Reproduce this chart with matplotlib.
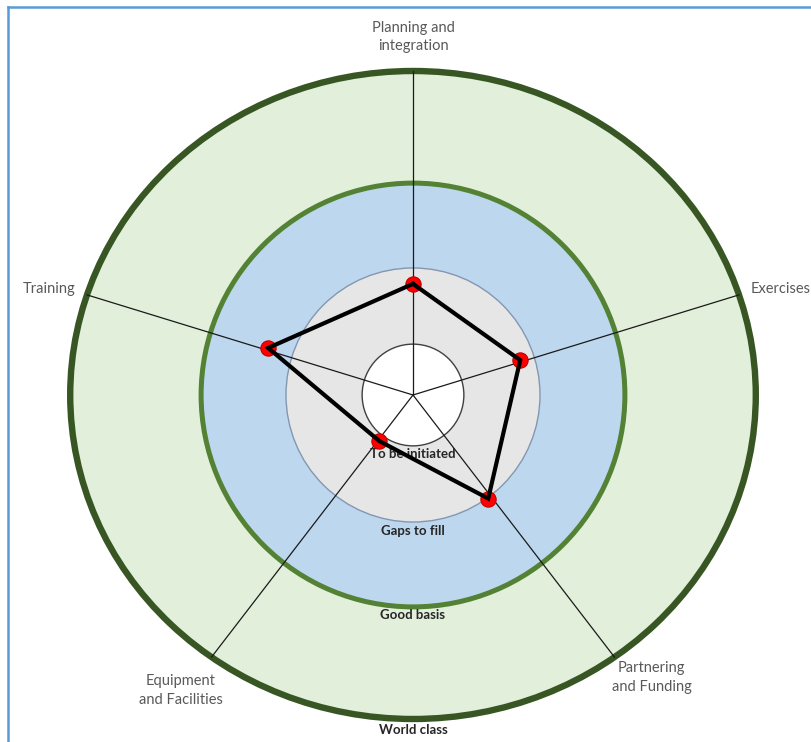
"""Capability maturity radar: five areas scored against four maturity rings."""

import numpy as np
import matplotlib

matplotlib.use("Agg")
import matplotlib.pyplot as plt
from matplotlib.patches import Circle, Ellipse
from matplotlib.lines import Line2D

# --- data -------------------------------------------------------------------
areas = [
    "Planning and\nintegration",
    "Exercises",
    "Partnering\nand Funding",
    "Equipment\nand Facilities",
    "Training",
]
# score of each area, as a fraction of the outer ("World class") ring
scores = [0.343, 0.348, 0.395, 0.176, 0.47]

levels = ["To be initiated", "Gaps to fill", "Good basis", "World class"]
# outer edge of each maturity ring, same scale as scores
level_edges = [0.157, 0.392, 0.654, 1.0]

# --- style ------------------------------------------------------------------
ring_fill = ["white", "#e7e6e6", "#bdd7ee", "#e2efda"]
ring_edge = ["#404040", "#8497b0", "#548235", "#375623"]
ring_lw = [1.0, 1.0, 3.6, 4.6]
RIM_STRETCH = 1.058  # the outer rim is a little wider than tall
LABEL_FONT = "Lato"

plt.rcParams["font.family"] = [LABEL_FONT, "DejaVu Sans"]

fig = plt.figure(figsize=(8.12, 7.42), dpi=100)
ax = fig.add_axes([0, 0, 1, 1])
ax.set_xlim(-413 / 324, 399 / 324)
ax.set_ylim(-347 / 324, 395 / 324)
ax.set_aspect("equal")
ax.axis("off")

# rings, drawn from the outside in
for i in reversed(range(len(level_edges))):
    r = level_edges[i]
    if i == len(level_edges) - 1:
        patch = Ellipse((0, 0), 2 * r * RIM_STRETCH, 2 * r)
    else:
        patch = Circle((0, 0), r)
    patch.set_facecolor(ring_fill[i])
    patch.set_edgecolor(ring_edge[i])
    patch.set_linewidth(ring_lw[i])
    patch.set_zorder(1 + (len(level_edges) - i) * 0.1)
    ax.add_patch(patch)

# level names just under the bottom of each ring
for name, r in zip(levels, level_edges):
    pad = 0.016 if r == level_edges[-1] else 0.008
    ax.text(0, -r - pad, name, ha="center", va="top", fontsize=9.5,
            fontweight="bold", color="#262626", zorder=3)

# spokes: top first, then clockwise
n = len(areas)
angles = np.pi / 2 - np.arange(n) * 2 * np.pi / n
outer = level_edges[-1]
for a in angles:
    ax.plot([0, outer * RIM_STRETCH * np.cos(a)], [0, outer * np.sin(a)],
            color="#1a1a1a", lw=0.9, zorder=2.5)

# area labels outside the rim
label_r = 1.12
aligns = ["center", "left", "center", "center", "right"]
offsets = [(0, -0.015), (0, -0.02), (0.04, 0.035), (-0.02, -0.005), (0, -0.02)]
for name, a, ha, (ox, oy) in zip(areas, angles, aligns, offsets):
    x = label_r * RIM_STRETCH * np.cos(a) + ox
    y = label_r * np.sin(a) + oy
    if ha == "left":
        x = 1.035 * RIM_STRETCH * np.cos(a)
    elif ha == "right":
        x = -1.035 * RIM_STRETCH * np.cos(np.pi - a)
    ax.text(x, y, name, ha=ha, va="center", fontsize=10.5, color="#595959",
            linespacing=1.45, zorder=3)

# the score polygon
sx = np.array(scores) * np.cos(angles)
sy = np.array(scores) * np.sin(angles)
ax.plot(np.append(sx, sx[0]), np.append(sy, sy[0]), color="black", lw=3,
        solid_joinstyle="miter", zorder=4)
ax.plot(sx, sy, "o", ms=11, color="#ff0000", mec="#c00000", mew=0.8,
        zorder=3.8)

# thin blue frame along the left and top
fig.add_artist(Line2D([8 / 812, 8 / 812], [0, 1 - 7 / 742], color="#5b9bd5",
                      lw=1.8))
fig.add_artist(Line2D([8 / 812, 1], [1 - 7 / 742, 1 - 7 / 742],
                      color="#5b9bd5", lw=1.8))

fig.savefig("out.png", dpi=100)
